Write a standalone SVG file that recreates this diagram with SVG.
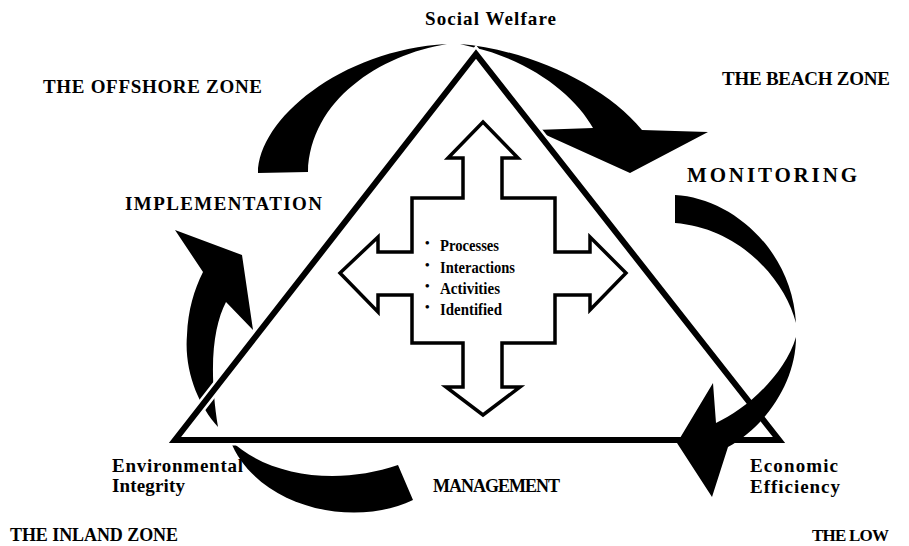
<svg xmlns="http://www.w3.org/2000/svg" width="909" height="546" viewBox="0 0 909 546">
  <style>
    .lbl { font-family: "Liberation Serif", "Times New Roman", serif; font-weight: bold; fill: #000; }
    .cap { font-size: 19px; }
    .mix { font-size: 19px; }
    .item { font-family: "Liberation Serif", "Times New Roman", serif; font-weight: bold; font-size: 16px; fill: #000; }
    .bul { font-family: "Liberation Serif", "Times New Roman", serif; font-weight: bold; font-size: 13px; fill: #000; }
    .flow { fill: #000; stroke: none; }
    .tri { fill: none; stroke: #000; stroke-width: 6; stroke-linejoin: miter; }
    .halo { fill: none; stroke: #fff; stroke-width: 11; stroke-linejoin: miter; }
    .cross { fill: #fff; stroke: #000; stroke-width: 3.5; stroke-linejoin: miter; }
  </style>

  <rect width="909" height="546" fill="#fff"/>

  <!-- circulating arrows (the pieces that pass behind the triangle) -->
  <g id="connectors">
    <!-- offshore: tail rising towards the apex -->
    <path class="flow" d="M258,173 C258,120 340,50 447,44 C380,55 310,100 308,172 Z"/>
    <!-- beach: descending from the apex with its head -->
    <path class="flow" d="M460,44 C530,50 605,85 642,130 L708,132 L630,173 L535,130 L593,128 C575,95 530,60 472,47 Z"/>
    <!-- monitoring: upper sweep -->
    <path class="flow" d="M675,195 C732,198 792,250 796,323 C785,280 740,228 675,223 Z"/>
    <!-- management: lower sweep under the base -->
    <path class="flow" d="M230,440 C255,505 350,530 413,500 L398,465 C340,485 270,478 230,440 Z"/>
    <!-- implementation: rising sweep with its head -->
    <path class="flow" d="M218,427 C198,405 184,370 187,335 C188,310 194,290 203,272 L175,230 L242,255 L253,330 L226,302 C214,325 208,365 218,427 Z"/>
  </g>

  <!-- the triangle, with a white gap where the arrows pass under it -->
  <g id="triangle">
    <polygon class="halo" points="476,54 779,440 175,440"/>
    <polygon class="tri" points="476,54 779,440 175,440"/>
  </g>

  <!-- monitoring: lower sweep and head, lying over the right corner -->
  <g id="connector-head-right">
    <path class="flow" d="M796,337 C796,382 766,426 728,447 L712,497 L677,443 L713,383 L716,423 C745,410 785,375 796,337 Z"/>
  </g>

  <!-- central four-way arrow -->
  <g id="core">
    <polygon class="cross" points="483,122 518,158 502,158 502,198 555,198 555,252 590,252 590,237 626,273 590,310 590,295 555,295 555,343 502,343 502,387 520,387 483,415 446,387 463,387 463,343 412,343 412,295 378,295 378,312 340,273 378,237 378,252 412,252 412,198 463,198 463,158 448,158"/>
    <text class="bul" x="425" y="247">•</text>
    <text class="item" x="440" y="251" textLength="59" lengthAdjust="spacingAndGlyphs">Processes</text>
    <text class="bul" x="425" y="269">•</text>
    <text class="item" x="440" y="273" textLength="75" lengthAdjust="spacingAndGlyphs">Interactions</text>
    <text class="bul" x="425" y="290">•</text>
    <text class="item" x="440" y="294" textLength="60" lengthAdjust="spacingAndGlyphs">Activities</text>
    <text class="bul" x="425" y="311">•</text>
    <text class="item" x="440" y="315" textLength="62" lengthAdjust="spacingAndGlyphs">Identified</text>
  </g>

  <!-- corner goals -->
  <g id="social-welfare">
    <text class="lbl mix" x="425" y="25" textLength="131" lengthAdjust="spacing">Social Welfare</text>
  </g>
  <g id="environmental-integrity">
    <text class="lbl mix" x="112" y="472" textLength="131" lengthAdjust="spacing">Environmental</text>
    <text class="lbl mix" x="112" y="492" textLength="73" lengthAdjust="spacing">Integrity</text>
  </g>
  <g id="economic-efficiency">
    <text class="lbl mix" x="750" y="472" textLength="88" lengthAdjust="spacing">Economic</text>
    <text class="lbl mix" x="750" y="493" textLength="90" lengthAdjust="spacing">Efficiency</text>
  </g>

  <!-- cycle stages -->
  <g id="implementation">
    <text class="lbl cap" x="125" y="210" textLength="197" lengthAdjust="spacing">IMPLEMENTATION</text>
  </g>
  <g id="monitoring">
    <text class="lbl" style="font-size:21px" x="687" y="182" textLength="170" lengthAdjust="spacing">MONITORING</text>
  </g>
  <g id="management">
    <text class="lbl" style="font-size:18px" x="433" y="492" textLength="127" lengthAdjust="spacing">MANAGEMENT</text>
  </g>

  <!-- zones -->
  <g id="offshore-zone">
    <text class="lbl cap" x="43" y="93" textLength="219" lengthAdjust="spacing">THE OFFSHORE ZONE</text>
  </g>
  <g id="beach-zone">
    <text class="lbl cap" x="722" y="85" textLength="168" lengthAdjust="spacing">THE BEACH ZONE</text>
  </g>
  <g id="inland-zone">
    <text class="lbl" style="font-size:18px" x="10" y="541" textLength="168" lengthAdjust="spacing">THE INLAND ZONE</text>
  </g>
  <g id="low-zone">
    <text class="lbl" style="font-size:17px" x="812" y="541" textLength="77" lengthAdjust="spacing">THE LOW</text>
  </g>
</svg>
